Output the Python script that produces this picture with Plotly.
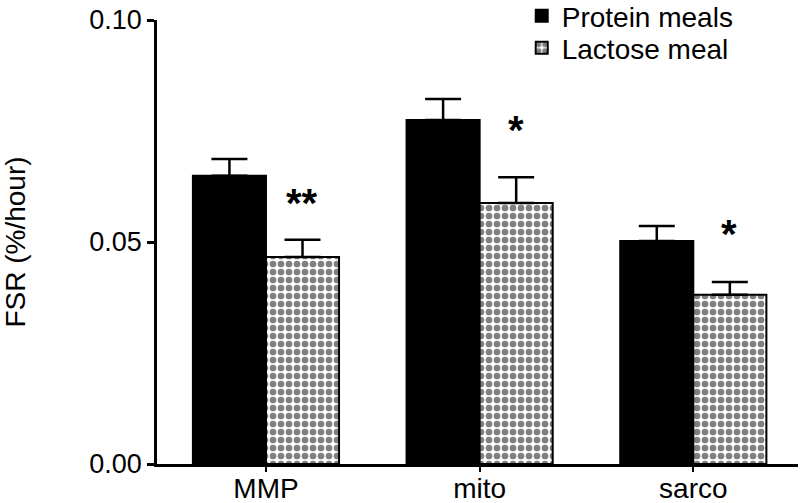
import plotly.graph_objects as go

categories = ["MMP", "mito", "sarco"]
protein_vals = [0.0649, 0.0775, 0.0502]
protein_err = [0.0038, 0.0047, 0.0034]
lactose_vals = [0.0466, 0.0588, 0.0381]
lactose_err = [0.0039, 0.0058, 0.0029]
sig_labels = ["**", "*", "*"]
sig_y = [0.0599, 0.0764, 0.0529]
y_ticks = [0.00, 0.05, 0.10]
y_ticktext = ["0.00", "0.05", "0.10"]

FONT = "Liberation Sans, Arial, Helvetica, sans-serif"

fig = go.Figure()
fig.add_trace(go.Bar(
    name="Protein meals", x=categories, y=protein_vals, legend="legend",
    marker=dict(color="black", line=dict(color="black", width=2)),
    error_y=dict(type="data", array=protein_err, arrayminus=[0]*3, symmetric=False,
                 color="black", thickness=2.5, width=18),
))
fig.add_trace(go.Bar(
    name="Lactose meal", x=categories, y=lactose_vals, legend="legend2",
    marker=dict(color="white", line=dict(color="black", width=2),
                pattern=dict(shape=".", fgcolor="black", bgcolor="white",
                             size=8, solidity=0.55, fillmode="overlay")),
    error_y=dict(type="data", array=lactose_err, arrayminus=[0]*3, symmetric=False,
                 color="black", thickness=2.5, width=18),
))

for cat, lab, yv in zip(categories, sig_labels, sig_y):
    fig.add_annotation(x=cat, y=yv, text=f"<b>{lab}</b>", showarrow=False,
                       xshift=36, yshift=-5, yanchor="middle",
                       font=dict(family=FONT, size=40, color="black"))

leg_common = dict(xanchor="left", yanchor="middle", xref="paper", yref="container",
                  font=dict(family=FONT, size=28, color="black"),
                  bgcolor="rgba(0,0,0,0)", itemwidth=30)

fig.update_layout(
    width=800, height=503,
    margin=dict(l=157, r=2, t=20, b=39, autoexpand=False),
    plot_bgcolor="white", paper_bgcolor="white",
    barmode="group", bargap=0.316, bargroupgap=0,
    font=dict(family=FONT, color="black"),
    showlegend=True,
    legend=dict(x=0.569, y=1 - 16 / 503, **leg_common),
    legend2=dict(x=0.569, y=1 - 48 / 503, **leg_common),
    xaxis=dict(range=[-0.51, 2.49], showline=True, linecolor="black", linewidth=2.5,
               ticks="outside", ticklen=5, tickwidth=2, tickcolor="black",
               tickfont=dict(family=FONT, size=28, color="black"),
               ticklabelstandoff=-7,
               showgrid=False, zeroline=False, fixedrange=True, automargin=False),
    yaxis=dict(range=[0, 0.1], tickvals=y_ticks, ticktext=y_ticktext,
               showline=True, linecolor="black", linewidth=2.5,
               ticks="outside", ticklen=7, tickwidth=2.5, tickcolor="black",
               tickfont=dict(family=FONT, size=27, color="black"),
               title=dict(text="FSR (%/hour)", standoff=76,
                          font=dict(family=FONT, size=28, color="black")),
               showgrid=False, zeroline=False, fixedrange=True, automargin=False),
)

fig.write_html("out.html", config={"displayModeBar": False},
               post_script="document.body.style.margin='0px';")
